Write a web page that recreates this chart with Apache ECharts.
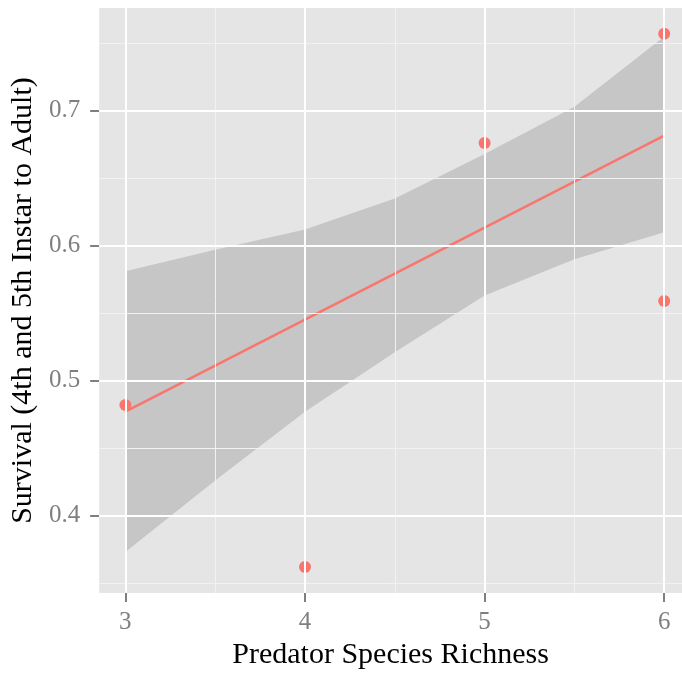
<!DOCTYPE html>
<html>
<head>
<meta charset="utf-8">
<script src="https://cdn.jsdelivr.net/npm/echarts@6/dist/echarts.min.js"></script>
<style>
  html, body { margin: 0; padding: 0; background: #fff; }
  #chart { width: 682px; height: 675px; }
</style>
</head>
<body>
<div id="chart"></div>
<script>
// observed points
const pointX = [3, 4, 5, 6, 6];
const pointY = [0.482, 0.362, 0.676, 0.757, 0.559];

// fitted line (end points)
const lineX = [3, 6];
const lineY = [0.477, 0.6815];

// confidence band, read at half steps
const bandX = [3, 3.5, 4, 4.5, 5, 5.5, 6];
const bandLower = [0.373, 0.426, 0.477, 0.521, 0.563, 0.590, 0.610];
const bandUpper = [0.581, 0.597, 0.612, 0.635, 0.668, 0.703, 0.755];

// ticks and grid lines
const xTicks = [3, 4, 5, 6];
const xMinor = [3.5, 4.5, 5.5];
const yTicks = [0.4, 0.5, 0.6, 0.7];
const yMinor = [0.35, 0.45, 0.55, 0.65, 0.75];

const serif = '"Liberation Serif", "DejaVu Serif", serif';
const chart = echarts.init(document.getElementById('chart'));

const gridLines = [
  ...xMinor.map((v) => ({ xAxis: v, lineStyle: { color: '#f2f2f2', width: 1 } })),
  ...yMinor.map((v) => ({ yAxis: v, lineStyle: { color: '#f2f2f2', width: 1 } })),
  ...xTicks.map((v) => ({ xAxis: v, lineStyle: { color: '#ffffff', width: 2 } })),
  ...yTicks.map((v) => ({ yAxis: v, lineStyle: { color: '#ffffff', width: 2 } }))
];

// band drawn once as a polygon: upper edge left to right, lower edge back
function renderBand(params, api) {
  if (params.dataIndex !== 0) return null;
  const upper = bandX.map((x, i) => api.coord([x, bandUpper[i]]));
  const lower = bandX.map((x, i) => api.coord([x, bandLower[i]])).reverse();
  return {
    type: 'polygon',
    shape: { points: upper.concat(lower) },
    style: { fill: 'rgba(153,153,153,0.4)' },
    silent: true
  };
}

chart.setOption({
  animation: false,
  grid: {
    left: 97, right: 0, top: 8, bottom: 80,
    show: true, backgroundColor: '#e5e5e5', borderWidth: 0
  },
  xAxis: {
    type: 'value',
    min: 2.854,
    max: 6.099,
    name: 'Predator Species Richness',
    nameLocation: 'middle',
    nameGap: 37,
    nameTextStyle: { fontFamily: serif, fontSize: 30, color: '#000' },
    axisLine: { show: false },
    axisTick: { show: true, length: 9, customValues: xTicks, lineStyle: { color: '#555', width: 1.5 } },
    axisLabel: { customValues: xTicks, margin: 17, color: '#7f7f7f', fontFamily: serif, fontSize: 25 },
    splitLine: { show: false }
  },
  yAxis: {
    type: 'value',
    min: 0.3426,
    max: 0.7761,
    name: 'Survival (4th and 5th Instar to Adult)',
    nameLocation: 'middle',
    nameGap: 58,
    nameTextStyle: { fontFamily: serif, fontSize: 30, color: '#000' },
    axisLine: { show: false },
    axisTick: { show: true, length: 9, customValues: yTicks, lineStyle: { color: '#555', width: 1.5 } },
    axisLabel: {
      customValues: yTicks, margin: 19, color: '#7f7f7f', fontFamily: serif, fontSize: 25,
      formatter: (v) => v.toFixed(1)
    },
    splitLine: { show: false }
  },
  series: [
    {
      name: 'grid',
      type: 'line',
      z: 1,
      data: [],
      markLine: {
        silent: true,
        symbol: ['none', 'none'],
        label: { show: false },
        lineStyle: { type: 'solid' },
        data: gridLines
      }
    },
    {
      name: 'band',
      type: 'custom',
      z: 2,
      data: bandX.map((x, i) => [x, bandLower[i], bandUpper[i]]),
      encode: { x: 0, y: [1, 2] },
      renderItem: renderBand
    },
    {
      name: 'fit',
      type: 'line',
      z: 3,
      data: lineX.map((x, i) => [x, lineY[i]]),
      symbol: 'none',
      lineStyle: { color: '#f8766d', width: 2.5 }
    },
    {
      name: 'points',
      type: 'scatter',
      z: 4,
      data: pointX.map((x, i) => [x, pointY[i]]),
      symbolSize: 12,
      itemStyle: { color: '#f8766d', opacity: 1 }
    }
  ]
});
</script>
</body>
</html>
